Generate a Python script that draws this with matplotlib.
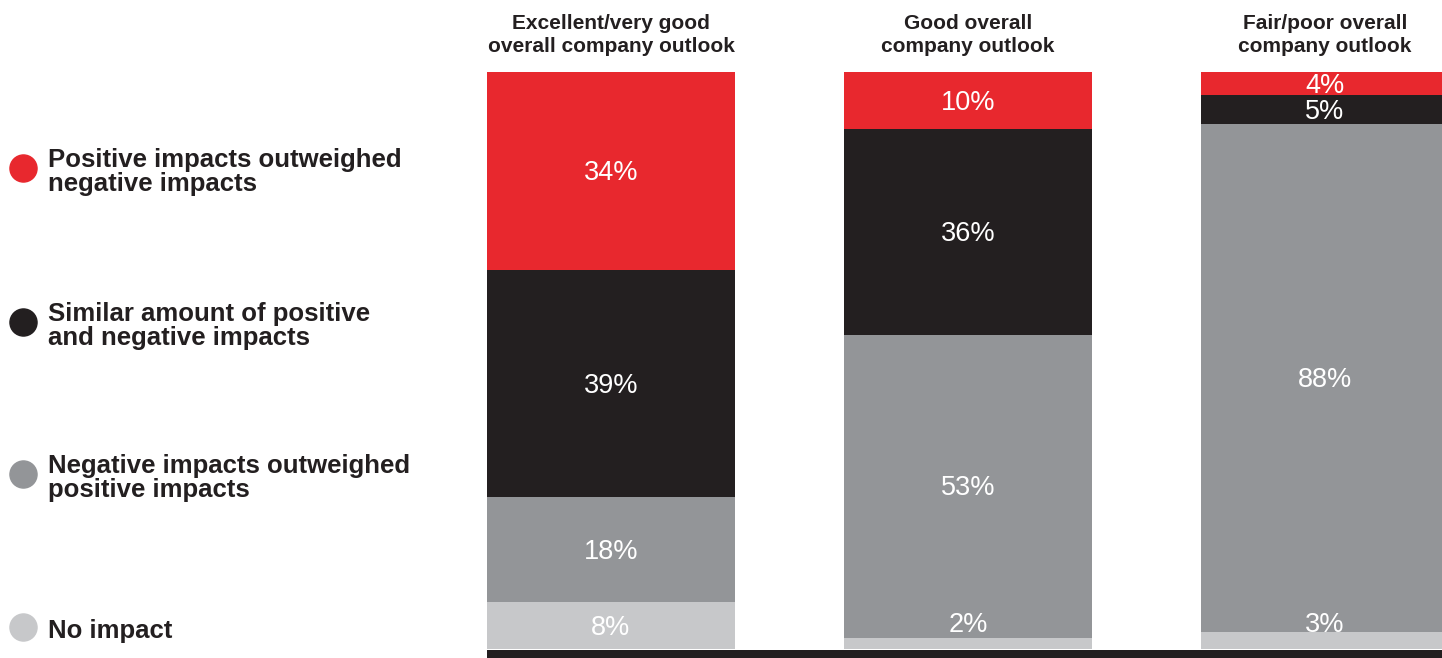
import numpy as np
import matplotlib
matplotlib.use('Agg')
import matplotlib.pyplot as plt
from matplotlib.lines import Line2D

plt.rcParams['font.family'] = ['Liberation Sans', 'DejaVu Sans']

# data
groups = ['Excellent/very good\noverall company outlook',
          'Good overall\ncompany outlook',
          'Fair/poor overall\ncompany outlook']
categories = ['No impact',
              'Negative impacts outweighed\npositive impacts',
              'Similar amount of positive\nand negative impacts',
              'Positive impacts outweighed\nnegative impacts']
no_impact = [8, 2, 3]
negative = [18, 53, 88]
similar = [39, 36, 5]
positive = [34, 10, 4]

colors = ['#c7c8ca', '#939598', '#231f20', '#e8282e']
dark = '#231f20'

W, H, DPI = 1442, 658, 100
fig = plt.figure(figsize=(W / DPI, H / DPI), dpi=DPI)

# axes: left edge at first bar, bottom at figure bottom, top at bar tops
left_px, top_px, base_px = 487, 72, 649
ax = fig.add_axes([left_px / W, 0, 1 - left_px / W, 1 - top_px / H])
ax.set_axis_off()

spacing = 357.0
bw = 248 / spacing
scale = (base_px - top_px) / 100.0
ymin = -(H - base_px) / scale
ax.set_xlim(-bw / 2, (W - left_px) / spacing - bw / 2)
ax.set_ylim(ymin, 100)

series = np.array([no_impact, negative, similar, positive], dtype=float)
totals = series.sum(axis=0)
norm = series / totals * 100  # every bar fills the same height
x = np.arange(len(groups))

bottom = np.zeros(len(groups))
for i, vals in enumerate(norm):
    ax.bar(x, vals, bw, bottom=bottom, color=colors[i], linewidth=0, clip_on=False)
    for j in range(len(groups)):
        v = series[i, j]
        yc = bottom[j] + vals[j] / 2
        if i == 0 and vals[j] < 6:
            yc = 4.5  # tiny bottom slice, label sits just above
        ax.text(x[j], yc - 0.35, '%d%%' % v, ha='center', va='center',
                color='white', fontsize=19.5)
    bottom += vals

# black baseline strip
ax.axhspan(ymin, -0.15, color=dark, linewidth=0)

# column headers
for j, g in enumerate(groups):
    ax.text(x[j], 100 + (top_px - 35) / scale, g, ha='center', va='center',
            fontsize=15, fontweight='bold', color=dark, linespacing=1.3,
            clip_on=False)

# legend on the left
leg_y = [627, 474, 322, 168]
for i, lab in enumerate(categories):
    yf = 1 - leg_y[i] / H
    fig.add_artist(Line2D([23 / W], [yf], marker='o', markersize=19.5,
                          color=colors[i], linestyle='none',
                          transform=fig.transFigure))
    fig.text(48 / W, yf - 4 / H, lab, ha='left', va='center', fontsize=18.5,
             fontweight='bold', color=dark, linespacing=0.95)

fig.savefig('out.png', dpi=DPI)
